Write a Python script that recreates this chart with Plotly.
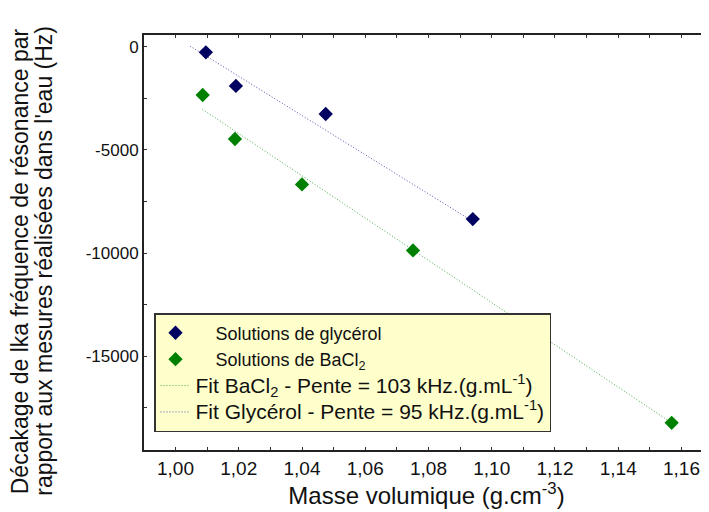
import plotly.graph_objects as go

# Data
glyc_x = [1.0096, 1.0191, 1.0475, 1.094]
glyc_y = [-270, -1900, -3260, -8350]
bacl2_x = [1.0086, 1.0188, 1.040, 1.0751, 1.1569]
bacl2_y = [-2340, -4470, -6670, -9870, -18220]

fit_glyc_x = [1.0046, 1.094]
fit_glyc_y = [30, -8460]
fit_bacl2_x = [1.0085, 1.1569]
fit_bacl2_y = [-3030, -18220]

x_tickvals = [1.00, 1.02, 1.04, 1.06, 1.08, 1.10, 1.12, 1.14, 1.16]
x_ticktext = ["1,00", "1,02", "1,04", "1,06", "1,08", "1,10", "1,12", "1,14", "1,16"]
y_tickvals = [0, -5000, -10000, -15000]
y_ticktext = ["0", "-5000", "-10000", "-15000"]

FONT = "Liberation Sans, Arial, sans-serif"
NAVY = "#000060"
GREEN = "#008000"

fig = go.Figure()
fig.add_trace(go.Scatter(
    x=fit_bacl2_x, y=fit_bacl2_y, mode="lines",
    line=dict(color="#44aa44", width=1, dash="1px,2px"),
    name='<span style="font-size:21px">Fit BaCl<sub>2</sub> - Pente = 103 kHz.(g.mL<sup>-1</sup>)</span>',
    legendrank=3))
fig.add_trace(go.Scatter(
    x=fit_glyc_x, y=fit_glyc_y, mode="lines",
    line=dict(color="#5050b0", width=1, dash="1px,2px"),
    name='<span style="font-size:21px">Fit Glycérol - Pente = 95 kHz.(g.mL<sup>-1</sup>)</span>',
    legendrank=4))
fig.add_trace(go.Scatter(
    x=glyc_x, y=glyc_y, mode="markers",
    marker=dict(symbol="diamond", size=11, color=NAVY),
    name="    Solutions de glycérol", legendrank=1))
fig.add_trace(go.Scatter(
    x=bacl2_x, y=bacl2_y, mode="markers",
    marker=dict(symbol="diamond", size=11, color=GREEN),
    name="    Solutions de BaCl<sub>2</sub>", legendrank=2))

axis_common = dict(showgrid=False, zeroline=False, showline=True,
                   linecolor="#222222", linewidth=2, ticks="inside",
                   ticklen=3, tickcolor="#333333", automargin=False)

fig.update_layout(
    template="none",
    width=701, height=504,
    margin=dict(l=136, r=0, t=27, b=62),
    paper_bgcolor="white", plot_bgcolor="white",
    font=dict(family=FONT, color="#111111"),
    showlegend=True,
    legend=dict(x=0.0177, y=0.330, xanchor="left", yanchor="top",
                bgcolor="#ffffcc", bordercolor="#333333", borderwidth=1.5,
                font=dict(family=FONT, size=18, color="#111111"),
                tracegroupgap=2),
    xaxis=dict(range=[0.99004, 1.1687], tickmode="array",
               tickvals=x_tickvals, ticktext=x_ticktext, mirror="ticks",
               tickfont=dict(family=FONT, size=19, color="#111111"),
               minor=dict(tickmode="linear", tick0=1.0, dtick=0.01,
                          ticks="inside", ticklen=3, tickcolor="#333333"),
               title=dict(text="Masse volumique (g.cm<sup>-3</sup>)",
                          font=dict(family=FONT, size=24), standoff=0),
               **axis_common),
    yaxis=dict(range=[-19535, 567], tickmode="array",
               tickvals=y_tickvals, ticktext=y_ticktext, mirror=False,
               tickfont=dict(family=FONT, size=17, color="#111111"),
               minor=dict(tickmode="linear", tick0=0, dtick=2500,
                          ticks="inside", ticklen=3, tickcolor="#333333"),
               **axis_common),
    annotations=[
        dict(text="Décakage de lka fréquence de résonance par",
             xref="paper", yref="paper", x=-0.219, y=0.4554,
             xanchor="center", yanchor="middle", textangle=-90,
             showarrow=False, font=dict(family=FONT, size=23, color="#111111")),
        dict(text="rapport aux mesures réalisées dans l'eau (Hz)",
             xref="paper", yref="paper", x=-0.1775, y=0.4554,
             xanchor="center", yanchor="middle", textangle=-90,
             showarrow=False, font=dict(family=FONT, size=23, color="#111111")),
    ],
)

fig.write_html("out.html")
